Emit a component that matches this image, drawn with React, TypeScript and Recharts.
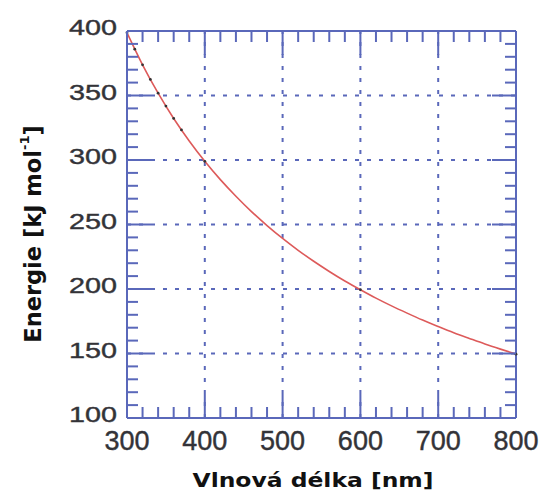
import { ComposedChart, Line, Scatter, XAxis, YAxis, ReferenceLine } from 'recharts'

// wavelength [nm] -> energy [kJ/mol]
const wavelengths = [300, 320, 340, 360, 380, 400, 420, 440, 460, 480, 500, 520, 540, 560, 580, 600, 620, 640, 660, 680, 700, 720, 740, 760, 780, 800]
const energies = [398.7, 373.8, 351.8, 332.2, 314.8, 299, 284.8, 271.9, 260, 249.2, 239.2, 230, 221.5, 213.6, 206.2, 199.4, 192.9, 186.9, 181.3, 175.9, 170.9, 166.1, 161.7, 157.4, 153.4, 149.5]

// the small black markers sitting on the curve
const sampleWavelengths = [300, 310, 320, 330, 340, 350, 360, 370, 400, 600, 800]
const sampleEnergies = [398.7, 385.9, 373.8, 362.5, 351.8, 341.8, 332.2, 323.3, 299, 199.4, 149.5]

const xTicks = [300, 320, 340, 360, 380, 400, 420, 440, 460, 480, 500, 520, 540, 560, 580, 600, 620, 640, 660, 680, 700, 720, 740, 760, 780, 800]
const yTicks = [100, 110, 120, 130, 140, 150, 160, 170, 180, 190, 200, 210, 220, 230, 240, 250, 260, 270, 280, 290, 300, 310, 320, 330, 340, 350, 360, 370, 380, 390, 400]
const xLabels = [300, 400, 500, 600, 700, 800]
const yLabels = [100, 150, 200, 250, 300, 350, 400]
const gridX = [400, 500, 600, 700]
const gridY = [150, 200, 250, 300, 350]

const curve = wavelengths.map((w, i) => ({ wavelength: w, energy: energies[i] }))
const samples = sampleWavelengths.map((w, i) => ({ wavelength: w, energy: sampleEnergies[i] }))

const AXIS = '#5a68ba'
const LABEL = '#333338'
const MAJOR = 24
const MINOR = 11

function BottomTick({ x, y, payload }: any) {
  const major = xLabels.includes(payload.value)
  return (
    <g>
      <line x1={x} x2={x} y1={y} y2={y - (major ? MAJOR : MINOR)} stroke={AXIS} strokeWidth={2} />
      {major && (
        <text
          x={x}
          y={y + 32}
          textAnchor="middle"
          fill={LABEL}
          stroke={LABEL}
          strokeWidth={0.4}
          fontFamily="Liberation Sans, Arial"
          fontSize={27}
        >
          {payload.value}
        </text>
      )}
    </g>
  )
}

function TopTick({ x, y, payload }: any) {
  const major = xLabels.includes(payload.value)
  return <line x1={x} x2={x} y1={y} y2={y + (major ? MAJOR : MINOR)} stroke={AXIS} strokeWidth={2} />
}

function LeftTick({ x, y, payload }: any) {
  const major = yLabels.includes(payload.value)
  return (
    <g>
      <line x1={x} x2={x + (major ? MAJOR : MINOR)} y1={y} y2={y} stroke={AXIS} strokeWidth={2} />
      {major && (
        <text
          x={x - 58}
          y={y + 4}
          textLength={48}
          lengthAdjust="spacingAndGlyphs"
          fill={LABEL}
          stroke={LABEL}
          strokeWidth={0.4}
          fontFamily="Liberation Sans, Arial"
          fontSize={22}
        >
          {payload.value}
        </text>
      )}
    </g>
  )
}

function RightTick({ x, y, payload }: any) {
  const major = yLabels.includes(payload.value)
  return <line x1={x} x2={x - (major ? MAJOR : MINOR)} y1={y} y2={y} stroke={AXIS} strokeWidth={2} />
}

const xTitle = () => (
  <text
    x={313}
    y={487}
    textAnchor="middle"
    textLength={241}
    lengthAdjust="spacingAndGlyphs"
    fontFamily="DejaVu Sans"
    fontWeight="bold"
    fontSize={20}
    fill="#111"
  >
    Vlnová délka [nm]
  </text>
)

const yTitle = () => (
  <text
    x={41}
    y={234}
    transform="rotate(-90, 41, 234)"
    textAnchor="middle"
    fontFamily="DejaVu Sans"
    fontWeight="bold"
    fontSize={22.5}
    fill="#111"
  >
    Energie [kJ mol
    <tspan fontSize={13} dy={-12}>-1</tspan>
    <tspan dy={12}>]</tspan>
  </text>
)

export default function App() {
  return (
    <div style={{ position: 'absolute', left: 0, top: 0, width: 545, height: 493, background: '#fff' }}>
      <ComposedChart width={545} height={493} margin={{ top: 30, right: 28, bottom: 0, left: 0 }}>
        <XAxis
          xAxisId="b"
          dataKey="wavelength"
          type="number"
          domain={[300, 800]}
          ticks={xTicks}
          interval={0}
          height={75}
          tickSize={0}
          tickMargin={0}
          tickLine={false}
          axisLine={{ stroke: AXIS, strokeWidth: 2 }}
          tick={BottomTick}
          label={{ content: xTitle }}
        />
        <XAxis
          xAxisId="t"
          orientation="top"
          dataKey="wavelength"
          type="number"
          domain={[300, 800]}
          ticks={xTicks}
          interval={0}
          height={1}
          tickSize={0}
          tickMargin={0}
          tickLine={false}
          axisLine={{ stroke: AXIS, strokeWidth: 2 }}
          tick={TopTick}
        />
        <YAxis
          yAxisId="l"
          type="number"
          domain={[100, 400]}
          ticks={yTicks}
          interval={0}
          width={127}
          tickSize={0}
          tickMargin={0}
          tickLine={false}
          axisLine={{ stroke: AXIS, strokeWidth: 2 }}
          tick={LeftTick}
          label={{ content: yTitle }}
        />
        <YAxis
          yAxisId="r"
          orientation="right"
          type="number"
          domain={[100, 400]}
          ticks={yTicks}
          interval={0}
          width={1}
          tickSize={0}
          tickMargin={0}
          tickLine={false}
          axisLine={{ stroke: AXIS, strokeWidth: 2 }}
          tick={RightTick}
        />

        {gridX.map((v) => (
          <ReferenceLine key={`gx${v}`} xAxisId="b" yAxisId="l" x={v} stroke={AXIS} strokeWidth={2} strokeDasharray="4 8" />
        ))}
        {gridY.map((v) => (
          <ReferenceLine key={`gy${v}`} xAxisId="b" yAxisId="l" y={v} stroke={AXIS} strokeWidth={2} strokeDasharray="4 8" />
        ))}

        <Line
          xAxisId="b"
          yAxisId="l"
          data={curve}
          dataKey="energy"
          type="natural"
          stroke="#dd5a5a"
          strokeWidth={1.6}
          dot={false}
          isAnimationActive={false}
        />
        <Line
          xAxisId="t"
          yAxisId="r"
          data={curve}
          dataKey="energy"
          stroke="none"
          dot={false}
          legendType="none"
          isAnimationActive={false}
        />
        <Scatter
          xAxisId="b"
          yAxisId="l"
          data={samples}
          dataKey="energy"
          fill="#333"
          shape={({ cx, cy }: any) => <circle cx={cx} cy={cy} r={1.4} fill="#333" />}
          isAnimationActive={false}
        />
      </ComposedChart>
    </div>
  )
}
